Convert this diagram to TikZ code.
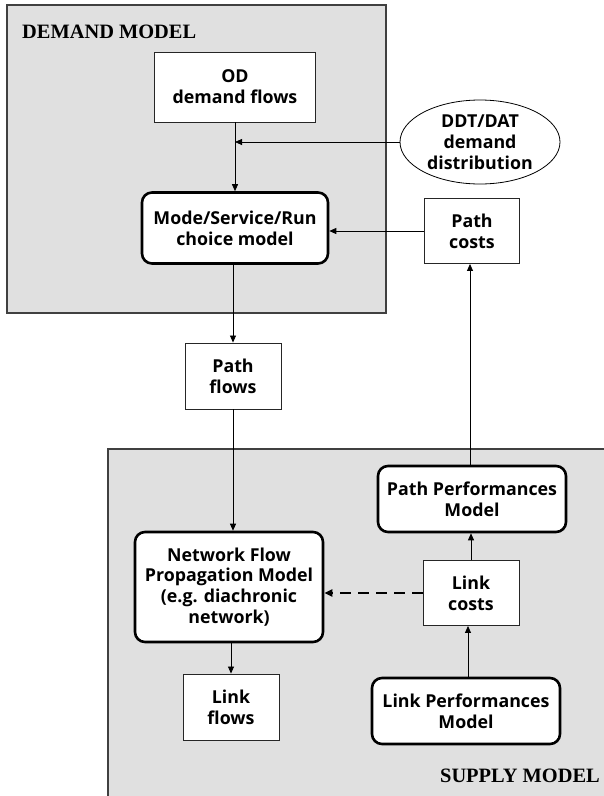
\documentclass[tikz,border=0pt]{standalone}
\usepackage{fontspec}
\setmainfont{Liberation Serif}
\newfontfamily\boxfont{Open Sans}
\usetikzlibrary{arrows.meta,shapes.geometric}
\begin{document}
\begin{tikzpicture}[x=1pt,y=-1pt,
  rbox/.style={draw=black!85,line width=0.9pt,fill=white,align=center,
    font=\boxfont\bfseries\fontsize{17.8}{20.8}\selectfont,inner sep=0pt},
  rnd/.style={rbox,rounded corners=10pt,line width=2.6pt,draw=black},
  arr/.style={-{Triangle[length=7pt,width=6pt]},line width=0.8pt},
  region/.style={fill=black!12,draw=black!75,line width=1.5pt},
  title/.style={font=\bfseries\fontsize{20.4}{22}\selectfont,inner sep=0pt}]
\useasboundingbox (0,0) rectangle (604,796);
\path[clip] (0,0) rectangle (604,796);
\draw[region] (7,5) rectangle (386,313);
\draw[region] (108,449) rectangle (612,804);
\node[title,anchor=base west] (dm) at (22,38) {DEMAND MODEL};
\node[title,anchor=base east] (sm) at (600,782) {SUPPLY MODEL};
% nodes
\node[rbox,minimum width=161pt,minimum height=70pt] (od) at (235,87) {OD\\demand flows};
\node[rnd,minimum width=186pt,minimum height=71pt] (choice) at (235,228) {Mode/Service/Run\\choice model};
\node[ellipse,draw=black,line width=0.8pt,fill=white,inner sep=0pt,align=center,
  font=\boxfont\bfseries\fontsize{17.8}{20.8}\selectfont,
  minimum width=160pt,minimum height=84pt] (ddt) at (480,142) {DDT/DAT\\demand\\distribution};
\node[rbox,minimum width=95pt,minimum height=65pt] (pc) at (472,231) {Path\\costs};
\node[rbox,minimum width=96pt,minimum height=66pt] (pf) at (233,376) {Path\\flows};
\node[rnd,minimum width=188pt,minimum height=110pt] (nf) at (229,587) {Network Flow\\Propagation Model\\(e.g. diachronic\\network)};
\node[rbox,minimum width=96pt,minimum height=66pt] (lf) at (231,707) {Link\\flows};
\node[rnd,minimum width=188pt,minimum height=66pt] (pp) at (472,499) {Path Performances\\Model};
\node[rbox,minimum width=96pt,minimum height=65pt] (lc) at (471,593) {Link\\costs};
\node[rnd,minimum width=188pt,minimum height=66pt] (lp) at (466,711) {Link Performances\\Model};
% connectors
\coordinate (m) at (od.south |- ddt.west);
\draw[arr] (od.south) -- (choice.north);
\draw[arr] (ddt.west) -- (m);
\draw[arr] (pc.west) -- (pc.west -| choice.east);
\draw[arr] (pf.north |- choice.south) -- (pf.north);
\draw[arr] (pf.south) -- (pf.south |- nf.north);
\draw[arr] (lf.north |- nf.south) -- (lf.north);
\draw[arr] ([xshift=2pt]lp.north) -- ([xshift=2pt]lp.north |- lc.south);
\draw[arr] (lc.north) -- (lc.north |- pp.south);
\draw[arr] ([xshift=-2pt]pp.north) -- ([xshift=-2pt]pp.north |- pc.south);
\draw[-{Triangle[length=8pt,width=7pt]},line width=2pt,dash pattern=on 11pt off 7pt] (lc.west) -- (lc.west -| nf.east);
\end{tikzpicture}
\end{document}
